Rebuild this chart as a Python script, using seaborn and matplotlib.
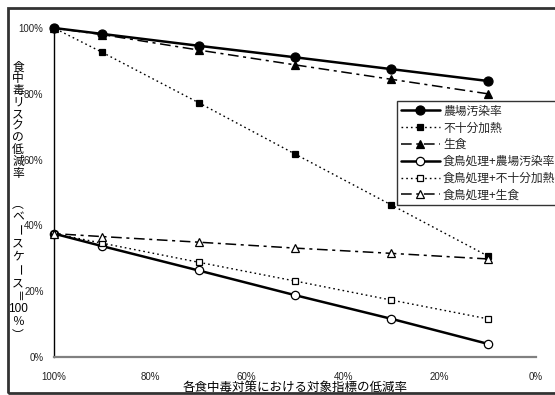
import matplotlib
matplotlib.use("Agg")
import matplotlib.pyplot as plt
from matplotlib.patches import Rectangle
from matplotlib.ticker import FuncFormatter
import pandas as pd
import seaborn as sns

# Reduction rate of each control target indicator (%)
target_rate = [100, 90, 70, 50, 30, 10]

# Food poisoning risk reduction rate (base case = 100%)
farm_contamination = [100, 98.2, 94.6, 91.1, 87.5, 83.9]
insufficient_heating = [100, 92.6, 77.3, 61.7, 46.2, 30.7]
raw_eating = [100, 98.0, 93.3, 88.8, 84.4, 80.0]
slaughter_farm = [37.5, 33.7, 26.3, 18.8, 11.6, 4.0]
slaughter_heating = [37.5, 34.6, 28.8, 23.1, 17.3, 11.6]
slaughter_raw = [37.5, 36.6, 34.9, 33.1, 31.5, 29.8]

series_names = ["農場汚染率", "不十分加熱", "生食",
                "食鳥処理+農場汚染率", "食鳥処理+不十分加熱", "食鳥処理+生食"]
series_values = [farm_contamination, insufficient_heating, raw_eating,
                 slaughter_farm, slaughter_heating, slaughter_raw]

x_ticks = [100, 80, 60, 40, 20, 0]
y_ticks = [0, 20, 40, 60, 80, 100]

xlabel = "各食中毒対策における対象指標の低減率"
# Vertical axis title, one glyph per row (vertical presentation forms for brackets)
ylabel_chars = ["食", "中", "毒", "リ", "ス", "ク", "の", "低", "減", "率",
                "︵", "ベ", "ー", "ス", "ケ", "ー", "ス", "＝", "100", "％", "︶"]

df = pd.DataFrame({
    "rate": target_rate * len(series_names),
    "value": [v for vals in series_values for v in vals],
    "series": [n for n, vals in zip(series_names, series_values) for _ in vals],
})

sns.set_theme(style="white")
plt.rcParams["font.family"] = ["Noto Sans CJK JP", "DejaVu Sans"]

W, H = 555, 395
fig = plt.figure(figsize=(W / 100, H / 100), dpi=100)
ax = fig.add_axes([54 / W, 38 / H, 482 / W, 329 / H])

dot = (0, (1.2, 2.2))
dashdot = (0, (7, 3, 2, 3))
styles = {
    "農場汚染率": dict(linestyle="-", lw=1.8, marker="o", ms=6.5, mfc="black"),
    "不十分加熱": dict(linestyle=dot, lw=1.0, marker="s", ms=5, mfc="black"),
    "生食": dict(linestyle=dashdot, lw=1.1, marker="^", ms=5.5, mfc="black"),
    "食鳥処理+農場汚染率": dict(linestyle="-", lw=1.8, marker="o", ms=6, mfc="white"),
    "食鳥処理+不十分加熱": dict(linestyle=dot, lw=1.0, marker="s", ms=5, mfc="white"),
    "食鳥処理+生食": dict(linestyle=dashdot, lw=1.1, marker="^", ms=5.5, mfc="white"),
}

for name in series_names:
    sub = df[df["series"] == name]
    st = styles[name]
    sns.lineplot(data=sub, x="rate", y="value", ax=ax, color="black",
                 linestyle=st["linestyle"], lw=st["lw"], marker=st["marker"],
                 markersize=st["ms"], markerfacecolor=st["mfc"],
                 markeredgecolor="black", markeredgewidth=0.9,
                 label=name, clip_on=False, zorder=3)

handles, labels = ax.get_legend_handles_labels()
if ax.get_legend() is not None:
    ax.get_legend().remove()

ax.set_xlim(100, 0)
ax.set_ylim(0, 100)
ax.set_xticks(x_ticks)
ax.set_yticks(y_ticks)
pct = FuncFormatter(lambda v, p: f"{v:.0f}%")
ax.xaxis.set_major_formatter(pct)
ax.yaxis.set_major_formatter(pct)

for s in ["top", "right"]:
    ax.spines[s].set_visible(False)
ax.spines["left"].set_color("black")
ax.spines["left"].set_linewidth(1.0)
ax.spines["bottom"].set_color("#808080")
ax.spines["bottom"].set_linewidth(1.6)

ax.tick_params(axis="y", direction="out", length=4, width=1, color="black",
               pad=3.5, labelsize=7)
ax.tick_params(axis="x", direction="in", length=4, width=1, color="#404040",
               pad=11, labelsize=7)
for lab in ax.get_xticklabels() + ax.get_yticklabels():
    lab.set_fontfamily("Liberation Sans")
    lab.set_color("#222222")

ax.set_xlabel(xlabel, fontsize=9, color="black")
ax.xaxis.set_label_coords(0.5, -(388 - 357) / 329)
ax.xaxis.label.set_va("center")
ax.set_ylabel("")

# Stacked vertical axis title
y_pos = [67 + 11.8 * i for i in range(10)] + [204 + 13.1 * j for j in range(11)]
rotated = {"ー", "＝"}
for ch, yp in zip(ylabel_chars, y_pos):
    fig.text(18 / W, 1 - yp / H, ch, ha="center", va="center",
             fontsize=8.5, rotation=-90 if ch in rotated else 0,
             family=["Noto Sans CJK JP", "DejaVu Sans"] if ch != "100" else "Liberation Sans",
             color="black")

leg = fig.legend(handles, labels, loc="upper left",
                 bbox_to_anchor=(397 / W, 1 - 101 / H), fontsize=8.5,
                 frameon=True, fancybox=False, borderpad=0.3,
                 labelspacing=0.32, handlelength=3.3, handletextpad=0.3,
                 borderaxespad=0)
leg.get_frame().set_edgecolor("black")
leg.get_frame().set_linewidth(1.0)

fig.patches.append(Rectangle((8 / W, 1 - 393 / H), 600 / W, 385 / H,
                             transform=fig.transFigure, fill=False,
                             edgecolor="#333333", lw=2, zorder=10))

fig.savefig("out.png", dpi=100)
